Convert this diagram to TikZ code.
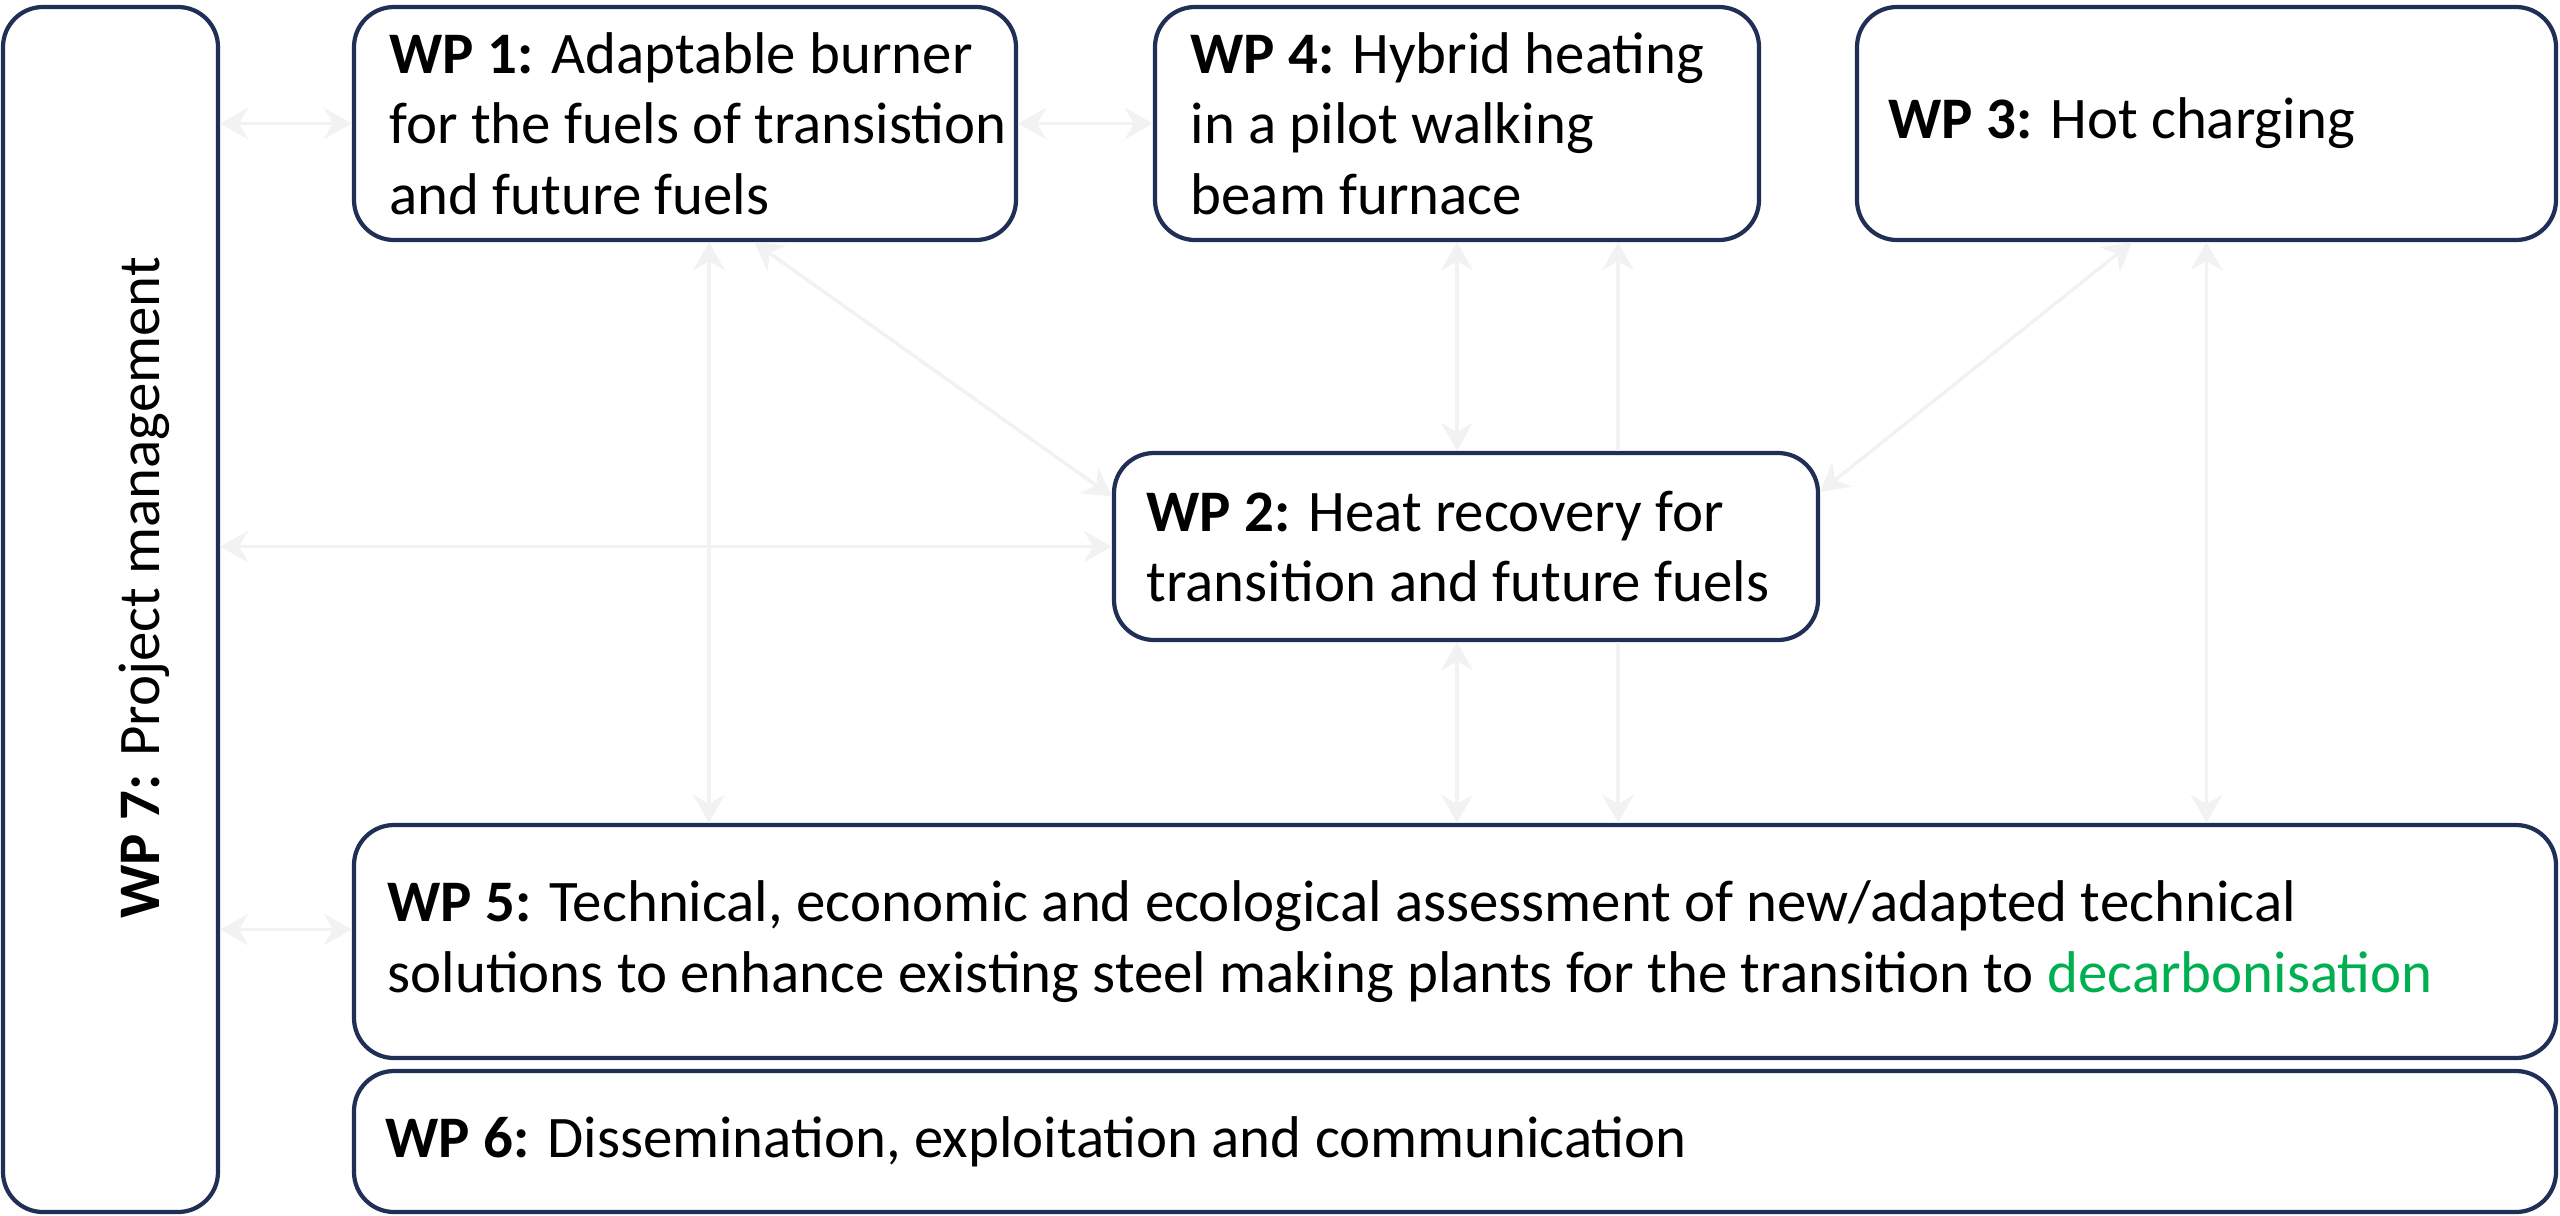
\documentclass[tikz,border=0pt]{standalone}
\usepackage{fontspec}
\setmainfont{Carlito}
\usetikzlibrary{arrows.meta}
\definecolor{wpnavy}{HTML}{1F2F55}
\definecolor{wpgreen}{HTML}{00B050}
\begin{document}
\begin{tikzpicture}[
    wpbox/.style={draw=wpnavy, line width=1.2pt, rounded corners=0.4cm, fill=white, inner sep=0pt},
    wptext/.style={anchor=west, align=left, inner sep=0pt, font=\fontsize{16.75}{20}\selectfont},
    link/.style={<->, >={Stealth[length=8pt,width=9pt]}, draw=black!5, line width=1pt}]
  \useasboundingbox (0,0) rectangle (25.6,-12.15);

  % work packages
  \node[wpbox, minimum width=2.15cm, minimum height=12.05cm] (wp7) at (1.105,-6.095) {};
  \node[wpbox, minimum width=6.62cm, minimum height=2.33cm] (wp1) at (6.85,-1.235) {};
  \node[wpbox, minimum width=6.04cm, minimum height=2.33cm] (wp4) at (14.57,-1.235) {};
  \node[wpbox, minimum width=6.99cm, minimum height=2.33cm] (wp3) at (22.065,-1.235) {};
  \node[wpbox, minimum width=7.04cm, minimum height=1.87cm] (wp2) at (14.66,-5.465) {};
  \node[wpbox, minimum width=22.02cm, minimum height=2.33cm] (wp5) at (14.55,-9.415) {};
  \node[wpbox, minimum width=22.02cm, minimum height=1.41cm] (wp6) at (14.55,-11.415) {};

  \node[wptext, anchor=center, rotate=90] (t7) at (1.44,-5.88) {\textbf{WP 7:} Project management};
  \node[wptext] (t1) at ([xshift=0.37cm]wp1.west) {\textbf{WP 1:} Adaptable burner\\for the fuels of transistion\\and future fuels};
  \node[wptext] (t4) at ([xshift=0.37cm]wp4.west) {\textbf{WP 4:} Hybrid heating\\in a pilot walking\\beam furnace};
  \node[wptext] (t3) at ([xshift=0.33cm]wp3.west) {\textbf{WP 3:} Hot charging};
  \node[wptext] (t2) at ([xshift=0.34cm]wp2.west) {\textbf{WP 2:} Heat recovery for\\transition and future fuels};
  \node[wptext] (t5) at ([xshift=0.35cm]wp5.west) {\textbf{WP 5:} Technical, economic and ecological assessment of new/adapted technical\\solutions to enhance existing steel making plants for the transition to \textcolor{wpgreen}{decarbonisation}};
  \node[wptext] (t6) at ([xshift=0.33cm]wp6.west) {\textbf{WP 6:} Dissemination, exploitation and communication};

  % faint links
  \coordinate (e5) at ([yshift=0.12cm]wp5.west);
  \draw[link] (wp7.east |- wp1.west) -- (wp1.west);
  \draw[link] (wp1.east) -- (wp4.west);
  \draw[link] ([xshift=0.24cm]wp1.south) -- ([xshift=0.24cm]wp1.south |- wp5.north);
  \draw[link] ([xshift=0.69cm]wp1.south) -- ([yshift=0.5cm]wp2.west);
  \draw[link] (wp7.east |- wp2.west) -- (wp2.west);
  \draw[link] (wp4.south) -- (wp4.south |- wp2.north);
  \draw[link] (wp4.south |- wp2.south) -- (wp4.south |- wp5.north);
  \draw[link, <-] ([xshift=1.61cm]wp4.south) -- ([xshift=1.61cm]wp4.south |- wp2.north);
  \draw[link, ->] ([xshift=1.61cm]wp4.south |- wp2.south) -- ([xshift=1.61cm]wp4.south |- wp5.north);
  \draw[link] ([xshift=-0.745cm]wp3.south) -- ([yshift=0.545cm]wp2.east);
  \draw[link] (wp3.south) -- (wp3.south |- wp5.north);
  \draw[link] (wp7.east |- e5) -- (e5);
\end{tikzpicture}
\end{document}
